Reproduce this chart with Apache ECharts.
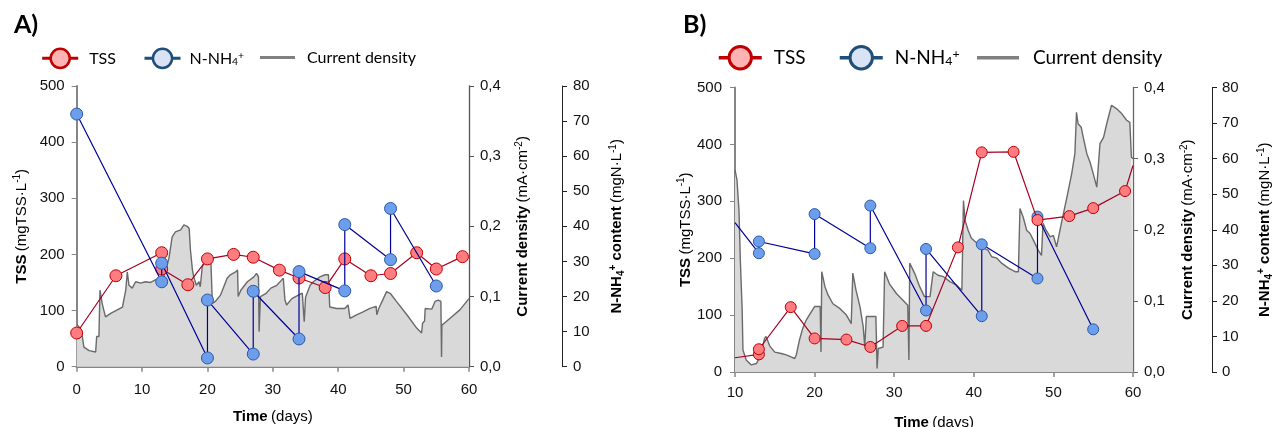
<!DOCTYPE html>
<html><head><meta charset="utf-8">
<script src="https://cdn.jsdelivr.net/npm/echarts@6/dist/echarts.min.js"></script>
<style>html,body{margin:0;padding:0;background:#fff}#c{width:1274px;height:427px}</style>
</head><body><div id="c"></div>
<script>
// ---------- DATA ----------
// Panel A: [day, value]
const tssA = [[0,60],[6,162],[13,203],[13,174],[17,146],[20,192],[24,200],[27,195],[31,172],[34,158],[38,141],[41,192],[45,162],[48,166],[52,203],[55,174],[59,196]];
const nh4A = [[0,72],[13,24.2],[13,29.5],[20,2.5],[20,19.0],[27,3.6],[27,21.5],[34,7.9],[34,27.1],[41,21.6],[41,40.5],[48,30.5],[48,45.1],[55,23.0]];
const cdA = [[0,0.06],[0.35,0.057],[0.86,0.043],[1.1,0.028],[1.9,0.023],[2.9,0.021],[3.05,0.043],[3.4,0.043],[3.56,0.109],[3.9,0.09],[4.4,0.071],[5.2,0.076],[6.2,0.081],[7.0,0.085],[7.2,0.095],[7.5,0.109],[7.74,0.135],[8.0,0.116],[8.5,0.112],[9.0,0.121],[9.8,0.119],[10.5,0.121],[11.3,0.12],[12.1,0.124],[13.0,0.122],[13.4,0.131],[14.1,0.154],[14.6,0.185],[15.1,0.192],[15.9,0.195],[16.4,0.202],[16.9,0.2],[17.2,0.197],[17.4,0.166],[17.7,0.138],[17.9,0.128],[18.3,0.116],[18.7,0.121],[18.9,0.114],[19.2,0.142],[19.7,0.154],[20.5,0.157],[20.7,0.157],[20.75,0.09],[21.2,0.093],[22.0,0.102],[22.5,0.114],[23.0,0.126],[23.5,0.131],[24.3,0.135],[24.6,0.138],[24.7,0.1],[25.1,0.109],[26.1,0.121],[27.1,0.128],[27.5,0.133],[27.8,0.128],[27.9,0.05],[28.1,0.1],[28.9,0.104],[29.7,0.112],[30.6,0.116],[31.3,0.123],[31.6,0.126],[31.85,0.095],[32.1,0.088],[32.9,0.097],[33.9,0.102],[34.5,0.105],[34.7,0.105],[34.8,0.064],[35.0,0.099],[35.7,0.116],[36.2,0.121],[37.2,0.128],[38.0,0.131],[38.5,0.131],[38.7,0.085],[39.75,0.083],[41.0,0.083],[41.5,0.088],[41.8,0.069],[42.8,0.074],[43.8,0.078],[44.85,0.083],[45.8,0.086],[45.9,0.074],[46.2,0.083],[46.9,0.097],[47.4,0.107],[48.0,0.104],[48.9,0.093],[50.5,0.074],[52.0,0.055],[52.75,0.048],[52.9,0.062],[53.2,0.065],[53.3,0.083],[54.3,0.082],[54.8,0.093],[55.3,0.095],[55.7,0.093],[55.8,0.014],[55.85,0.059],[57.1,0.069],[58.6,0.081],[60,0.097]];
// Panel B: [day, value]; first/last points are where the lines leave the plot edges
const tssB = [[10,25],[13,31],[13,40],[17,114],[20,59],[24,57],[27,44],[31,81],[34,81],[38,219],[41,386],[45,387],[48,267],[52,274],[55,288],[59,318],[60,363]];
const nh4B = [[10,42],[13,33.4],[13,36.7],[20,33.2],[20,44.4],[27,34.8],[27,46.8],[34,17.3],[34,34.6],[41,15.7],[41,35.9],[48,26.3],[48,43.7],[55,12.0]];
const cdB = [[10,0.284],[10.25,0.27],[10.5,0.227],[10.67,0.157],[10.9,0.087],[11.0,0.031],[11.4,0.017],[12.05,0.01],[12.7,0.012],[13.1,0.021],[13.4,0.031],[13.7,0.047],[13.9,0.05],[14.4,0.036],[15.0,0.028],[15.8,0.026],[16.45,0.024],[17.1,0.021],[17.5,0.019],[17.7,0.024],[18.1,0.045],[18.5,0.061],[18.95,0.073],[19.6,0.085],[20.0,0.092],[20.4,0.092],[20.7,0.092],[20.8,0.028],[20.9,0.141],[21.3,0.12],[21.7,0.108],[22.3,0.096],[23.2,0.089],[24.0,0.08],[24.6,0.068],[24.8,0.139],[25.2,0.115],[25.7,0.092],[26.1,0.064],[26.3,0.036],[26.5,0.078],[27.7,0.078],[27.85,0.005],[28.0,0.033],[28.6,0.035],[28.8,0.141],[29.4,0.124],[30.3,0.11],[31.1,0.101],[31.7,0.094],[31.85,0.017],[31.95,0.153],[32.6,0.138],[33.2,0.12],[33.8,0.106],[34.5,0.106],[34.7,0.124],[34.9,0.141],[35.5,0.136],[36.2,0.134],[37.0,0.127],[37.85,0.122],[38.5,0.115],[38.7,0.241],[38.9,0.213],[39.3,0.199],[39.7,0.188],[40.4,0.181],[41.0,0.176],[41.8,0.171],[42.25,0.162],[42.9,0.16],[43.5,0.153],[44.35,0.146],[45.2,0.141],[45.6,0.141],[45.8,0.23],[46.2,0.218],[46.65,0.199],[47.05,0.195],[47.5,0.185],[48.1,0.171],[48.5,0.164],[48.7,0.209],[49.1,0.199],[49.6,0.19],[50.0,0.192],[50.4,0.176],[51.0,0.209],[51.7,0.246],[52.3,0.279],[52.7,0.307],[52.9,0.365],[53.1,0.349],[53.5,0.344],[53.75,0.33],[54.2,0.307],[54.6,0.295],[55.0,0.279],[55.45,0.26],[55.6,0.258],[55.85,0.321],[56.3,0.33],[56.7,0.349],[57.3,0.375],[57.95,0.37],[58.6,0.363],[59.2,0.354],[59.6,0.351],[59.8,0.302],[60,0.3]];
// Axis ranges [min, max, interval]
const dayAxisA = [0, 60, 10];
const dayAxisB = [10, 60, 10];
const tssAxis = [0, 500, 100];
const cdAxis = [0, 0.4, 0.1];
const nh4Axis = [0, 80, 10];
const seriesNames = ['TSS', 'N-NH4+', 'Current density'];

// ---------- CHART ----------
const F = '"Liberation Sans", Arial, sans-serif';
const L = 'Lato, "Open Sans", sans-serif';
const AXC = '#868686';
const rich = {
  b:{fontFamily:F,fontSize:15,fontWeight:'bold',color:'#000',lineHeight:18},
  n:{fontFamily:F,fontSize:15,color:'#000',lineHeight:18},
  s:{fontFamily:F,fontSize:10,color:'#000',lineHeight:10,verticalAlign:'top'},
  bs:{fontFamily:F,fontSize:10,fontWeight:'bold',color:'#000',lineHeight:10,verticalAlign:'top'},
  bd:{fontFamily:F,fontSize:10,fontWeight:'bold',color:'#000',lineHeight:10,verticalAlign:'bottom'}
};
const nameTSS = '{b|TSS} {n|(mgTSS·L}{s|-1}{n|)}';
const nameCD = '{b|Current density} {n|(mA·cm}{s|-2}{n|)}';
const nameN = '{b|N-NH}{bd|4}{bs|+}{b| content} {n|(mgN·L}{s|-1}{n|)}';
const nameT = '{b|Time} {n|(days)}';
const lbl = {fontFamily:F,fontSize:15,color:'#111'};

function edgeless(arr, xmin, xmax){
  return arr.map(p => (p[0] <= xmin || p[0] >= xmax) ? {value:p, symbol:'none'} : p);
}
function xBottom(gi, ax, margin, gap){
  return {type:'value', gridIndex:gi, position:'bottom', min:ax[0], max:ax[1], interval:ax[2],
    axisLine:{show:true,lineStyle:{color:AXC,width:2}},
    axisTick:{show:true,length:5,lineStyle:{color:AXC,width:1.5}},
    axisLabel:{...lbl, margin:margin}, splitLine:{show:false},
    name:nameT, nameLocation:'middle', nameGap:gap, nameTextStyle:{rich:rich}};
}
function xTop(gi, ax){
  return {type:'value', gridIndex:gi, position:'top', min:ax[0], max:ax[1], interval:ax[2],
    axisLine:{show:true,lineStyle:{color:AXC,width:2}}, axisTick:{show:false}, axisLabel:{show:false}, splitLine:{show:false}};
}
function yAx(gi, ax, pos, offset, name, gap, margin, lineColor, lineWidth, fmt){
  return {type:'value', gridIndex:gi, position:pos, offset:offset, min:ax[0], max:ax[1], interval:ax[2],
    axisLine:{show:true,onZero:false,lineStyle:{color:lineColor,width:lineWidth}},
    axisTick:{show:true,length:5,lineStyle:{color:lineColor,width:1}},
    axisLabel:{...lbl, margin:margin, formatter:fmt}, splitLine:{show:false},
    name:name, nameLocation:'middle', nameGap:gap, nameTextStyle:{rich:rich}};
}
const cdFmt = v => v.toFixed(1).replace('.', ',');

function legendItem(name, left, top, w, h, opts){
  const isCD = name === 'Current density';
  const o = {data:[isCD ? {name:name, icon:'rect'} : name], left:left, top:top, padding:0, orient:'horizontal',
    itemWidth:w, itemHeight:h, selectedMode:false,
    textStyle:{fontFamily:L, fontSize:opts.fs, color:'#000', padding:[0,0,0,opts.pad],
      rich:{m:{fontFamily:L,fontSize:opts.fs,color:'#000'}, sub:{fontFamily:L,fontSize:opts.fs*0.65,color:'#000',verticalAlign:'bottom',lineHeight:opts.fs*0.6}, sup:{fontFamily:L,fontSize:opts.fs*0.65,color:'#000',verticalAlign:'top',lineHeight:opts.fs*0.6}}},
    formatter: n => n === 'N-NH4+' ? '{m|N-NH}{sub|4}{sup|+}' : n};
  if (isCD) { o.itemStyle = {color:'#808080', borderWidth:0}; }
  else if (name === 'TSS') { o.itemStyle = {color:'#ffb3b3', borderColor:'#c00000', borderWidth:opts.bw}; o.lineStyle = {color:'#c00000', width:opts.lw}; }
  else { o.itemStyle = {color:'#dae3f3', borderColor:'#1f4e79', borderWidth:opts.bw}; o.lineStyle = {color:'#1f4e79', width:opts.lw}; }
  return o;
}

const redItem = {color:'#ff7c80', borderColor:'#c00000', borderWidth:1};
const blueItem = {color:'#6d9eeb', borderColor:'#2a5aa8', borderWidth:1};

const option = {
  animation:false,
  backgroundColor:'#fff',
  title:[
    {text:'A)', left:14, top:12, padding:0, textStyle:{fontFamily:L, fontWeight:'bold', fontSize:25, color:'#000'}},
    {text:'B)', left:683, top:12, padding:0, textStyle:{fontFamily:L, fontWeight:'bold', fontSize:25, color:'#000'}}
  ],
  legend:[
    legendItem(seriesNames[0], 40.7, 47.5, 36, 24, {fs:16, pad:6, bw:2.5, lw:3}),
    legendItem(seriesNames[1], 143, 47.5, 36, 24, {fs:16, pad:4, bw:2.5, lw:3}),
    legendItem(seriesNames[2], 260, 49.5, 35, 3, {fs:16, pad:7}),
    legendItem(seriesNames[0], 717, 45, 43, 28, {fs:19, pad:7, bw:3, lw:3.5}),
    legendItem(seriesNames[1], 838, 45, 43, 28, {fs:19, pad:7, bw:3, lw:3.5}),
    legendItem(seriesNames[2], 977, 48.3, 42, 3.5, {fs:19, pad:9})
  ],
  grid:[
    {left:76.7, top:86, width:392.3, height:280.7, containLabel:false, outerBoundsMode:'none'},
    {left:735, top:87.5, width:398, height:284.5, containLabel:false, outerBoundsMode:'none'}
  ],
  xAxis:[
    xBottom(0, dayAxisA, 16, 41), xTop(0, dayAxisA),
    xBottom(1, dayAxisB, 13, 42), xTop(1, dayAxisB)
  ],
  yAxis:[
    yAx(0, tssAxis, 'left', 0, nameTSS, 46, 12, AXC, 2),
    yAx(0, cdAxis, 'right', 0, nameCD, 45, 11, '#555', 1.3, cdFmt),
    yAx(0, nh4Axis, 'right', 93, nameN, 46, 11, '#222', 1),
    yAx(1, tssAxis, 'left', 0, nameTSS, 35, 13, AXC, 2),
    yAx(1, cdAxis, 'right', 0, nameCD, 46, 11, '#666', 1.3, cdFmt),
    yAx(1, nh4Axis, 'right', 79, nameN, 44, 10, '#222', 1)
  ],
  series:[
    {name:seriesNames[2], type:'line', xAxisIndex:0, yAxisIndex:1, data:cdA, symbol:'none', silent:true,
      lineStyle:{color:'#6a6a6a', width:1.4}, areaStyle:{color:'#d9d9d9', opacity:1}, z:1},
    {name:seriesNames[0], type:'line', xAxisIndex:0, yAxisIndex:0, data:tssA, symbol:'circle', symbolSize:12,
      itemStyle:redItem, lineStyle:{color:'#a50021', width:1.2}, z:3},
    {name:seriesNames[1], type:'line', xAxisIndex:0, yAxisIndex:2, data:nh4A, symbol:'circle', symbolSize:12,
      itemStyle:blueItem, lineStyle:{color:'#000099', width:1.2}, z:4},
    {name:seriesNames[2], type:'line', xAxisIndex:2, yAxisIndex:4, data:cdB, symbol:'none', silent:true,
      lineStyle:{color:'#6a6a6a', width:1.4}, areaStyle:{color:'#d9d9d9', opacity:1}, z:1},
    {name:seriesNames[1], type:'line', xAxisIndex:2, yAxisIndex:5, data:edgeless(nh4B, dayAxisB[0], dayAxisB[1]), symbol:'circle', symbolSize:11,
      itemStyle:blueItem, lineStyle:{color:'#000099', width:1.2}, z:3},
    {name:seriesNames[0], type:'line', xAxisIndex:2, yAxisIndex:3, data:edgeless(tssB, dayAxisB[0], dayAxisB[1]), symbol:'circle', symbolSize:11,
      itemStyle:redItem, lineStyle:{color:'#a50021', width:1.2}, z:4}
  ]
};
const chart = echarts.init(document.getElementById('c'));
chart.setOption(option);
</script>
</body></html>
